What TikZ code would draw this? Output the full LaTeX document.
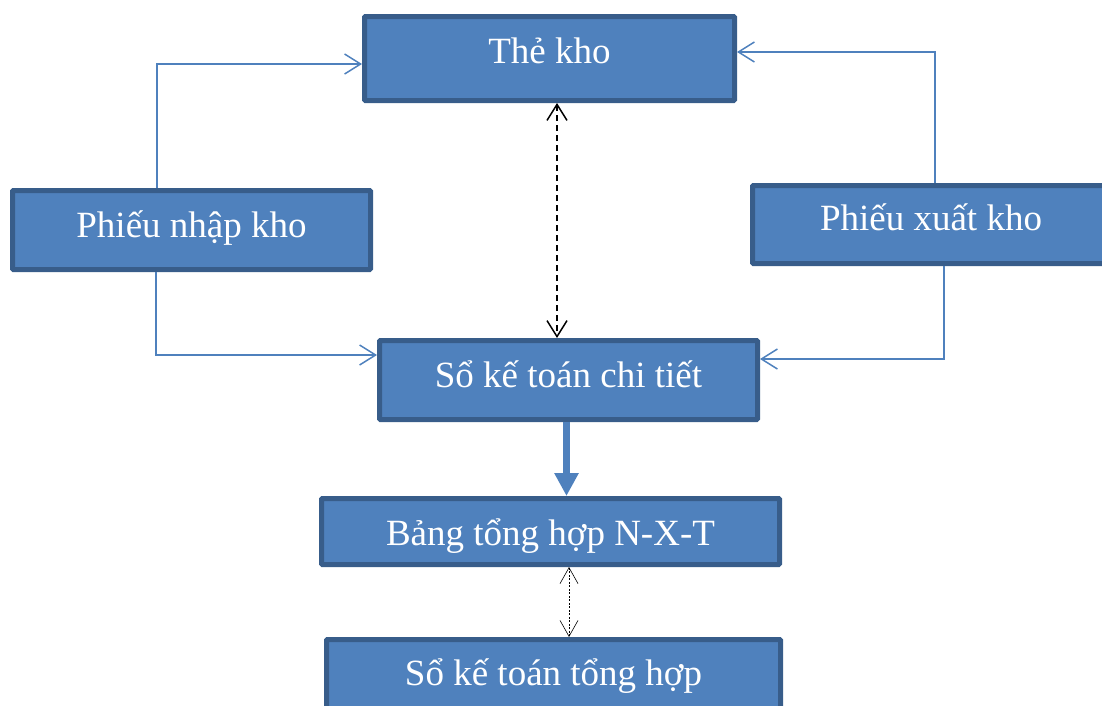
\documentclass[tikz,border=0pt]{standalone}
\usepackage{fontspec}
\setmainfont{Liberation Serif}
\usetikzlibrary{arrows.meta}
\definecolor{boxfill}{HTML}{4F81BD}
\definecolor{boxline}{HTML}{385D8A}
\begin{document}
\begin{tikzpicture}[x=1pt,y=-1pt,
  box/.style={draw=boxline, fill=boxfill, line width=5pt, rounded corners=1pt,
    text=white, font=\fontsize{37}{44}\selectfont, inner sep=0pt,
    text height=#1, text depth=10pt},
  link/.style={draw=boxfill, line width=1.5pt,
    -{Straight Barb[length=16pt,width=20pt]}},
  dashlink/.style={draw=black, line width=1.5pt, dash pattern=on 6pt off 4pt,
    {Straight Barb[length=16pt,width=20pt]}-{Straight Barb[length=16pt,width=20pt]}},
  dotlink/.style={draw=black, line width=0.6pt, dash pattern=on 2pt off 1.5pt,
    {Straight Barb[length=16pt,width=18pt]}-{Straight Barb[length=16pt,width=18pt]}},
  bigarrow/.style={draw=boxfill, line width=7pt,
    -{Triangle[length=23pt,width=23pt]}}]
\useasboundingbox (0,0) rectangle (1102,705);
\clip (0,0) rectangle (1102,705);

% boxes
\node[box=19pt, minimum width=370pt, minimum height=84pt] (thekho) at (549.5,58.5) {Thẻ kho};
\node[box=24pt, minimum width=358pt, minimum height=79pt] (pnk) at (191.5,230) {Phiếu nhập kho};
\node[box=21pt, minimum width=357pt, minimum height=78pt] (pxk) at (931,224.5) {Phiếu xuất kho};
\node[box=24pt, minimum width=378pt, minimum height=79pt] (sct) at (568.5,380) {Sổ kế toán chi tiết};
\node[box=37pt, minimum width=458pt, minimum height=66pt] (bth) at (550.5,531.5) {Bảng tổng hợp N-X-T};
\node[box=21pt, minimum width=454pt, minimum height=80pt] (sth) at (553.5,679.5) {Sổ kế toán tổng hợp};

% elbow points of the connectors
\coordinate (n1) at (157,64);
\coordinate (n2) at (156,355);
\coordinate (x1) at (935,52);
\coordinate (x2) at (944,359);

\draw[link] (n1 |- pnk.north) -- (n1) -- (n1 -| thekho.west);
\draw[link] (n2 |- pnk.south) -- (n2) -- (n2 -| sct.west);
\draw[link] (x1 |- pxk.north) -- (x1) -- (x1 -| thekho.east);
\draw[link] (x2 |- pxk.south) -- (x2) -- (x2 -| sct.east);

\coordinate (d1) at (557,0);
\draw[dashlink] (d1 |- thekho.south) -- (d1 |- sct.north);

\coordinate (d2) at (566.5,0);
\draw[bigarrow] (d2 |- sct.south) -- (d2 |- bth.north);

\coordinate (d3) at (569,0);
\draw[dotlink] (d3 |- bth.south) -- (d3 |- sth.north);
\end{tikzpicture}
\end{document}
